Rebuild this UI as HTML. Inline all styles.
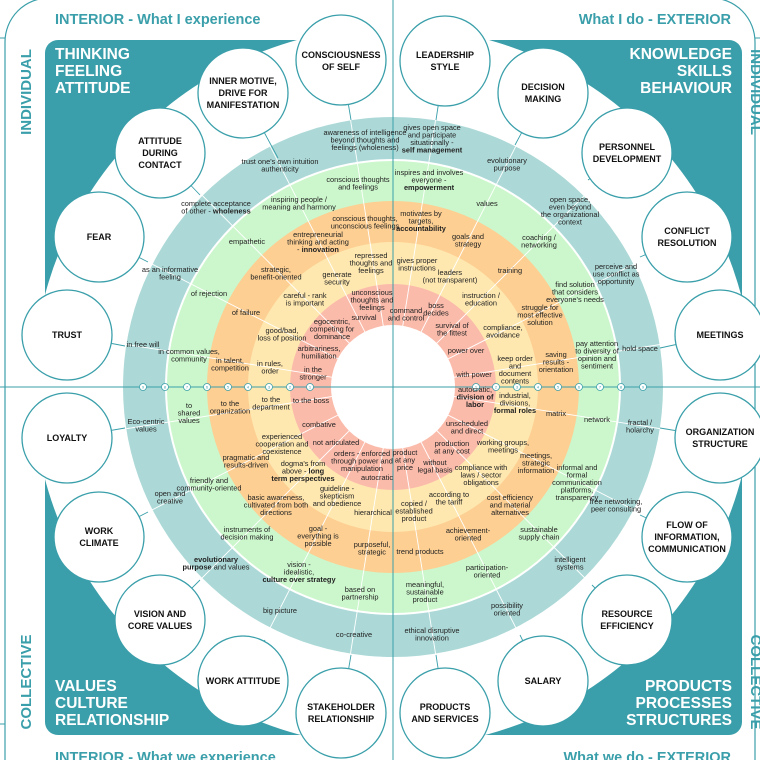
<!DOCTYPE html>
<html><head><meta charset="utf-8">
<style>
html,body{margin:0;padding:0;background:#fff;}
svg{display:block;}
.t{font-family:"Liberation Sans",sans-serif;font-size:7.4px;fill:#222;text-anchor:middle;}
.c{font-family:"Liberation Sans",sans-serif;font-size:9px;font-weight:bold;fill:#111;text-anchor:middle;}
.h{font-family:"Liberation Sans",sans-serif;font-size:15.5px;font-weight:bold;fill:#fff;}
.k{font-family:"Liberation Sans",sans-serif;font-size:14.5px;font-weight:bold;fill:#3a9faa;}
.v{font-family:"Liberation Sans",sans-serif;font-size:15px;font-weight:bold;fill:#3a9faa;text-anchor:middle;}
.d{font-family:"Liberation Sans",sans-serif;font-size:4px;fill:#3a9faa;text-anchor:middle;}
</style></head><body>
<svg width="760" height="760" viewBox="0 0 760 760" xmlns="http://www.w3.org/2000/svg">
<!-- outer frame -->
<path d="M5 760 V42 A44 44 0 0 1 49 -2 H711 A44 44 0 0 1 755 42 V760" fill="none" stroke="#3a9faa" stroke-width="1.2"/>
<path d="M0 38 H5 M0 724 H5 M755 38 H760" stroke="#3a9faa" stroke-width="1"/>
<!-- panel -->
<rect x="45" y="40" width="697" height="695" rx="13" fill="#3a9faa"/>
<circle cx="393" cy="387" r="360" fill="#fff"/>
<!-- rings -->
<circle cx="393" cy="387" r="270" fill="#acd9d7"/>
<circle cx="393" cy="387" r="228" fill="#fff"/>
<circle cx="393" cy="387" r="226" fill="#ccf7cc"/>
<circle cx="393" cy="387" r="186" fill="#fdcf92"/>
<circle cx="393" cy="387" r="145" fill="#fee8b0"/>
<circle cx="393" cy="387" r="103" fill="#fbbbab"/>
<!-- spokes -->
<g stroke="#fff" stroke-width="0.9">
<line x1="341" y1="60" x2="393" y2="387"/><line x1="243" y1="93" x2="393" y2="387"/><line x1="160" y1="153" x2="393" y2="387"/><line x1="99" y1="237" x2="393" y2="387"/><line x1="67" y1="335" x2="393" y2="387"/>
<line x1="445" y1="61" x2="393" y2="387"/><line x1="543" y1="93" x2="393" y2="387"/><line x1="627" y1="153" x2="393" y2="387"/><line x1="687" y1="237" x2="393" y2="387"/><line x1="720" y1="335" x2="393" y2="387"/>
<line x1="67" y1="438" x2="393" y2="387"/><line x1="99" y1="537" x2="393" y2="387"/><line x1="160" y1="620" x2="393" y2="387"/><line x1="243" y1="681" x2="393" y2="387"/><line x1="341" y1="713" x2="393" y2="387"/>
<line x1="720" y1="438" x2="393" y2="387"/><line x1="687" y1="537" x2="393" y2="387"/><line x1="627" y1="620" x2="393" y2="387"/><line x1="543" y1="681" x2="393" y2="387"/><line x1="445" y1="713" x2="393" y2="387"/>
</g>
<circle cx="393" cy="387" r="270" fill="none" stroke="#acd9d7" stroke-width="0"/>
<g stroke="#3a9faa" stroke-width="0.9" fill="none">
<path d="M341 60 L351 120 M243 93 L278 158 M160 153 L200 195 M99 237 L148 262 M67 335 L125 346 M445 61 L436 120 M543 93 L515 145 M627 153 L588 180 M687 237 L640 257 M720 335 L660 348 M67 438 L125 428 M99 537 L148 512 M160 620 L200 580 M243 681 L265 640 M341 713 L351 655 M720 438 L660 428 M687 537 L640 515 M627 620 L592 585 M543 681 L520 635 M445 713 L436 655"/>
</g>
<circle cx="393" cy="387" r="62" fill="#fff"/>
<!-- axes -->
<path d="M0 387 H760 M393 0 V760" stroke="#3a9faa" stroke-width="1"/>
<g fill="#fff" stroke="#3a9faa" stroke-width="0.8">
<circle cx="310" cy="387" r="3.5"/><circle cx="290" cy="387" r="3.5"/><circle cx="269" cy="387" r="3.5"/><circle cx="248" cy="387" r="3.5"/><circle cx="228" cy="387" r="3.5"/><circle cx="207" cy="387" r="3.5"/><circle cx="187" cy="387" r="3.5"/><circle cx="165" cy="387" r="3.5"/><circle cx="143" cy="387" r="3.5"/>
<circle cx="476" cy="387" r="3.5"/><circle cx="496" cy="387" r="3.5"/><circle cx="517" cy="387" r="3.5"/><circle cx="538" cy="387" r="3.5"/><circle cx="558" cy="387" r="3.5"/><circle cx="579" cy="387" r="3.5"/><circle cx="600" cy="387" r="3.5"/><circle cx="621" cy="387" r="3.5"/><circle cx="643" cy="387" r="3.5"/>
</g>
<g class="d">
<text x="310" y="388.4">1</text><text x="290" y="388.4">2</text><text x="269" y="388.4">3</text><text x="248" y="388.4">4</text><text x="228" y="388.4">5</text><text x="207" y="388.4">6</text><text x="187" y="388.4">7</text><text x="165" y="388.4">8</text><text x="143" y="388.4">9</text>
<text x="476" y="388.4">1</text><text x="496" y="388.4">2</text><text x="517" y="388.4">3</text><text x="538" y="388.4">4</text><text x="558" y="388.4">5</text><text x="579" y="388.4">6</text><text x="600" y="388.4">7</text><text x="621" y="388.4">8</text><text x="643" y="388.4">9</text>
</g>
<!-- outer circles -->
<g fill="#fff" stroke="#3a9faa" stroke-width="1.3">
<circle cx="341" cy="60" r="45"/><circle cx="243" cy="93" r="45"/><circle cx="160" cy="153" r="45"/><circle cx="99" cy="237" r="45"/><circle cx="67" cy="335" r="45"/>
<circle cx="445" cy="61" r="45"/><circle cx="543" cy="93" r="45"/><circle cx="627" cy="153" r="45"/><circle cx="687" cy="237" r="45"/><circle cx="720" cy="335" r="45"/>
<circle cx="67" cy="438" r="45"/><circle cx="99" cy="537" r="45"/><circle cx="160" cy="620" r="45"/><circle cx="243" cy="681" r="45"/><circle cx="341" cy="713" r="45"/>
<circle cx="720" cy="438" r="45"/><circle cx="687" cy="537" r="45"/><circle cx="627" cy="620" r="45"/><circle cx="543" cy="681" r="45"/><circle cx="445" cy="713" r="45"/>
</g>
<g class="c">
<text x="341" y="58">CONSCIOUSNESS<tspan x="341" dy="12">OF SELF</tspan></text>
<text x="243" y="84">INNER MOTIVE,<tspan x="243" dy="12">DRIVE FOR</tspan><tspan x="243" dy="12">MANIFESTATION</tspan></text>
<text x="160" y="144">ATTITUDE<tspan x="160" dy="12">DURING</tspan><tspan x="160" dy="12">CONTACT</tspan></text>
<text x="99" y="240">FEAR</text>
<text x="67" y="338">TRUST</text>
<text x="445" y="58">LEADERSHIP<tspan x="445" dy="12">STYLE</tspan></text>
<text x="543" y="90">DECISION<tspan x="543" dy="12">MAKING</tspan></text>
<text x="627" y="150">PERSONNEL<tspan x="627" dy="12">DEVELOPMENT</tspan></text>
<text x="687" y="234">CONFLICT<tspan x="687" dy="12">RESOLUTION</tspan></text>
<text x="720" y="338">MEETINGS</text>
<text x="67" y="441">LOYALTY</text>
<text x="99" y="534">WORK<tspan x="99" dy="12">CLIMATE</tspan></text>
<text x="160" y="617">VISION AND<tspan x="160" dy="12">CORE VALUES</tspan></text>
<text x="243" y="684">WORK ATTITUDE</text>
<text x="341" y="710">STAKEHOLDER<tspan x="341" dy="12">RELATIONSHIP</tspan></text>
<text x="720" y="435">ORGANIZATION<tspan x="720" dy="12">STRUCTURE</tspan></text>
<text x="687" y="528">FLOW OF<tspan x="687" dy="12">INFORMATION,</tspan><tspan x="687" dy="12">COMMUNICATION</tspan></text>
<text x="627" y="617">RESOURCE<tspan x="627" dy="12">EFFICIENCY</tspan></text>
<text x="543" y="684">SALARY</text>
<text x="445" y="710">PRODUCTS<tspan x="445" dy="12">AND SERVICES</tspan></text>
</g>
<!-- headings -->
<text class="k" x="55" y="24">INTERIOR - What I experience</text>
<text class="k" x="731" y="24" text-anchor="end">What I do - EXTERIOR</text>
<text class="k" x="55" y="762">INTERIOR - What we experience</text>
<text class="k" x="731" y="762" text-anchor="end">What we do - EXTERIOR</text>
<text class="h" x="55" y="59">THINKING<tspan x="55" dy="17">FEELING</tspan><tspan x="55" dy="17">ATTITUDE</tspan></text>
<text class="h" x="732" y="59" text-anchor="end">KNOWLEDGE<tspan x="732" dy="17">SKILLS</tspan><tspan x="732" dy="17">BEHAVIOUR</tspan></text>
<text class="h" x="55" y="691">VALUES<tspan x="55" dy="17">CULTURE</tspan><tspan x="55" dy="17">RELATIONSHIP</tspan></text>
<text class="h" x="732" y="691" text-anchor="end">PRODUCTS<tspan x="732" dy="17">PROCESSES</tspan><tspan x="732" dy="17">STRUCTURES</tspan></text>
<text class="v" transform="translate(31 92) rotate(-90)">INDIVIDUAL</text>
<text class="v" transform="translate(31 682) rotate(-90)">COLLECTIVE</text>
<text class="v" transform="translate(751 92) rotate(90)">INDIVIDUAL</text>
<text class="v" transform="translate(751 682) rotate(90)">COLLECTIVE</text>
<!-- ring labels -->
<g class="t">
<text x="365" y="135">awareness of intelligence<tspan x="365" dy="7.5">beyond thoughts and</tspan><tspan x="365" dy="7.5">feelings (wholeness)</tspan></text>
<text x="280" y="164">trust one's own intuition<tspan x="280" dy="7.5">authenticity</tspan></text>
<text x="358" y="182">conscious thoughts<tspan x="358" dy="7.5">and feelings</tspan></text>
<text x="216" y="206">complete acceptance<tspan x="216" dy="7.5">of other - <tspan font-weight="bold">wholeness</tspan></tspan></text>
<text x="299" y="202">inspiring people /<tspan x="299" dy="7.5">meaning and harmony</tspan></text>
<text x="365" y="221">conscious thoughts,<tspan x="365" dy="7.5">unconscious feelings</tspan></text>
<text x="247" y="244">empathetic</text>
<text x="318" y="237">entrepreneurial<tspan x="318" dy="7.5">thinking and acting</tspan><tspan x="318" dy="7.5">- <tspan font-weight="bold">innovation</tspan></tspan></text>
<text x="170" y="272">as an informative<tspan x="170" dy="7.5">feeling</tspan></text>
<text x="276" y="272">strategic,<tspan x="276" dy="7.5">benefit-oriented</tspan></text>
<text x="337" y="277">generate<tspan x="337" dy="7.5">security</tspan></text>
<text x="371" y="258">repressed<tspan x="371" dy="7.5">thoughts and</tspan><tspan x="371" dy="7.5">feelings</tspan></text>
<text x="209" y="296">of rejection</text>
<text x="305" y="298">careful - rank<tspan x="305" dy="7.5">is important</tspan></text>
<text x="372" y="295">unconscious<tspan x="372" dy="7.5">thoughts and</tspan><tspan x="372" dy="7.5">feelings</tspan></text>
<text x="246" y="315">of failure</text>
<text x="364" y="320">survival</text>
<text x="332" y="324">egocentric,<tspan x="332" dy="7.5">competing for</tspan><tspan x="332" dy="7.5">dominance</tspan></text>
<text x="282" y="333">good/bad,<tspan x="282" dy="7.5">loss of position</tspan></text>
<text x="143" y="347">in free will</text>
<text x="319" y="351">arbitrariness,<tspan x="319" dy="7.5">humiliation</tspan></text>
<text x="189" y="354">in common values,<tspan x="189" dy="7.5">community</tspan></text>
<text x="230" y="363">in talent,<tspan x="230" dy="7.5">competition</tspan></text>
<text x="270" y="366">in rules,<tspan x="270" dy="7.5">order</tspan></text>
<text x="313" y="372">in the<tspan x="313" dy="7.5">stronger</tspan></text>

<text x="432" y="130">gives open space<tspan x="432" dy="7.5">and participate</tspan><tspan x="432" dy="7.5">situationally -</tspan><tspan x="432" dy="7.5" font-weight="bold">self management</tspan></text>
<text x="507" y="163">evolutionary<tspan x="507" dy="7.5">purpose</tspan></text>
<text x="429" y="175">inspires and involves<tspan x="429" dy="7.5">everyone -</tspan><tspan x="429" dy="7.5" font-weight="bold">empowerment</tspan></text>
<text x="487" y="206">values</text>
<text x="570" y="202">open space,<tspan x="570" dy="7.5">even beyond</tspan><tspan x="570" dy="7.5">the organizational</tspan><tspan x="570" dy="7.5">context</tspan></text>
<text x="421" y="216">motivates by<tspan x="421" dy="7.5">targets,</tspan><tspan x="421" dy="7.5" font-weight="bold">accountability</tspan></text>
<text x="468" y="239">goals and<tspan x="468" dy="7.5">strategy</tspan></text>
<text x="539" y="240">coaching /<tspan x="539" dy="7.5">networking</tspan></text>
<text x="417" y="263">gives proper<tspan x="417" dy="7.5">instructions</tspan></text>
<text x="450" y="275">leaders<tspan x="450" dy="7.5">(not transparent)</tspan></text>
<text x="510" y="273">training</text>
<text x="616" y="269">perceive and<tspan x="616" dy="7.5">use conflict as</tspan><tspan x="616" dy="7.5">opportunity</tspan></text>
<text x="575" y="287">find solution<tspan x="575" dy="7.5">that considers</tspan><tspan x="575" dy="7.5">everyone's needs</tspan></text>
<text x="481" y="298">instruction /<tspan x="481" dy="7.5">education</tspan></text>
<text x="436" y="308">boss<tspan x="436" dy="7.5">decides</tspan></text>
<text x="406" y="313">command<tspan x="406" dy="7.5">and control</tspan></text>
<text x="540" y="310">struggle for<tspan x="540" dy="7.5">most effective</tspan><tspan x="540" dy="7.5">solution</tspan></text>
<text x="452" y="328">survival of<tspan x="452" dy="7.5">the fittest</tspan></text>
<text x="503" y="330">compliance,<tspan x="503" dy="7.5">avoidance</tspan></text>
<text x="466" y="353">power over</text>
<text x="597" y="346">pay attention<tspan x="597" dy="7.5">to diversity of</tspan><tspan x="597" dy="7.5">opinion and</tspan><tspan x="597" dy="7.5">sentiment</tspan></text>
<text x="640" y="351">hold space</text>
<text x="515" y="361">keep order<tspan x="515" dy="7.5">and</tspan><tspan x="515" dy="7.5">document</tspan><tspan x="515" dy="7.5">contents</tspan></text>
<text x="556" y="357">saving<tspan x="556" dy="7.5">results -</tspan><tspan x="556" dy="7.5">orientation</tspan></text>
<text x="474" y="377">with power</text>

<text x="311" y="403">to the boss</text>
<text x="271" y="402">to the<tspan x="271" dy="7.5">department</tspan></text>
<text x="230" y="406">to the<tspan x="230" dy="7.5">organization</tspan></text>
<text x="189" y="408">to<tspan x="189" dy="7.5">shared</tspan><tspan x="189" dy="7.5">values</tspan></text>
<text x="146" y="424">Eco-centric<tspan x="146" dy="7.5">values</tspan></text>
<text x="319" y="427">combative</text>
<text x="282" y="439">experienced<tspan x="282" dy="7.5">cooperation and</tspan><tspan x="282" dy="7.5">coexistence</tspan></text>
<text x="336" y="445">not articulated</text>
<text x="362" y="456">orders - enforced<tspan x="362" dy="7.5">through power and</tspan><tspan x="362" dy="7.5">manipulation</tspan></text>
<text x="246" y="460">pragmatic and<tspan x="246" dy="7.5">results-driven</tspan></text>
<text x="303" y="466">dogma's from<tspan x="303" dy="7.5">above - <tspan font-weight="bold">long</tspan></tspan><tspan x="303" dy="7.5" font-weight="bold">term perspectives</tspan></text>
<text x="377" y="480">autocratic</text>
<text x="209" y="483">friendly and<tspan x="209" dy="7.5">community-oriented</tspan></text>
<text x="170" y="496">open and<tspan x="170" dy="7.5">creative</tspan></text>
<text x="337" y="491">guideline -<tspan x="337" dy="7.5">skepticism</tspan><tspan x="337" dy="7.5">and obedience</tspan></text>
<text x="276" y="500">basic awareness,<tspan x="276" dy="7.5">cultivated from both</tspan><tspan x="276" dy="7.5">directions</tspan></text>
<text x="373" y="515">hierarchical</text>
<text x="247" y="532">instruments of<tspan x="247" dy="7.5">decision making</tspan></text>
<text x="318" y="531">goal -<tspan x="318" dy="7.5">everything is</tspan><tspan x="318" dy="7.5">possible</tspan></text>
<text x="372" y="547">purposeful,<tspan x="372" dy="7.5">strategic</tspan></text>
<text x="216" y="562" font-weight="bold">evolutionary<tspan x="216" dy="7.5">purpose <tspan font-weight="normal">and values</tspan></tspan></text>
<text x="299" y="567">vision -<tspan x="299" dy="7.5">idealistic,</tspan><tspan x="299" dy="7.5" font-weight="bold">culture over strategy</tspan></text>
<text x="360" y="592">based on<tspan x="360" dy="7.5">partnership</tspan></text>
<text x="280" y="613">big picture</text>
<text x="354" y="637">co-creative</text>

<text x="475" y="392">autocratic,<tspan x="475" dy="7.5" font-weight="bold">division of</tspan><tspan x="475" dy="7.5" font-weight="bold">labor</tspan></text>
<text x="515" y="398">industrial,<tspan x="515" dy="7.5">divisions,</tspan><tspan x="515" dy="7.5" font-weight="bold">formal roles</tspan></text>
<text x="556" y="416">matrix</text>
<text x="597" y="422">network</text>
<text x="640" y="425">fractal /<tspan x="640" dy="7.5">holarchy</tspan></text>
<text x="467" y="426">unscheduled<tspan x="467" dy="7.5">and direct</tspan></text>
<text x="452" y="446">production<tspan x="452" dy="7.5">at any cost</tspan></text>
<text x="503" y="445">working groups,<tspan x="503" dy="7.5">meetings</tspan></text>
<text x="405" y="455">product<tspan x="405" dy="7.5">at any</tspan><tspan x="405" dy="7.5">price</tspan></text>
<text x="435" y="465">without<tspan x="435" dy="7.5">legal basis</tspan></text>
<text x="481" y="470">compliance with<tspan x="481" dy="7.5">laws / sector</tspan><tspan x="481" dy="7.5">obligations</tspan></text>
<text x="536" y="458">meetings,<tspan x="536" dy="7.5">strategic</tspan><tspan x="536" dy="7.5">information</tspan></text>
<text x="577" y="470">informal and<tspan x="577" dy="7.5">formal</tspan><tspan x="577" dy="7.5">communication</tspan><tspan x="577" dy="7.5">platforms,</tspan><tspan x="577" dy="7.5">transparency</tspan></text>
<text x="616" y="504">free networking,<tspan x="616" dy="7.5">peer consulting</tspan></text>
<text x="449" y="497">according to<tspan x="449" dy="7.5">the tariff</tspan></text>
<text x="414" y="506">copied /<tspan x="414" dy="7.5">established</tspan><tspan x="414" dy="7.5">product</tspan></text>
<text x="510" y="500">cost efficiency<tspan x="510" dy="7.5">and material</tspan><tspan x="510" dy="7.5">alternatives</tspan></text>
<text x="468" y="533">achievement-<tspan x="468" dy="7.5">oriented</tspan></text>
<text x="539" y="532">sustainable<tspan x="539" dy="7.5">supply chain</tspan></text>
<text x="420" y="554">trend products</text>
<text x="570" y="562">intelligent<tspan x="570" dy="7.5">systems</tspan></text>
<text x="487" y="570">participation-<tspan x="487" dy="7.5">oriented</tspan></text>
<text x="425" y="587">meaningful,<tspan x="425" dy="7.5">sustainable</tspan><tspan x="425" dy="7.5">product</tspan></text>
<text x="507" y="608">possibility<tspan x="507" dy="7.5">oriented</tspan></text>
<text x="432" y="633">ethical disruptive<tspan x="432" dy="7.5">innovation</tspan></text>
</g>
</svg>
</body></html>
